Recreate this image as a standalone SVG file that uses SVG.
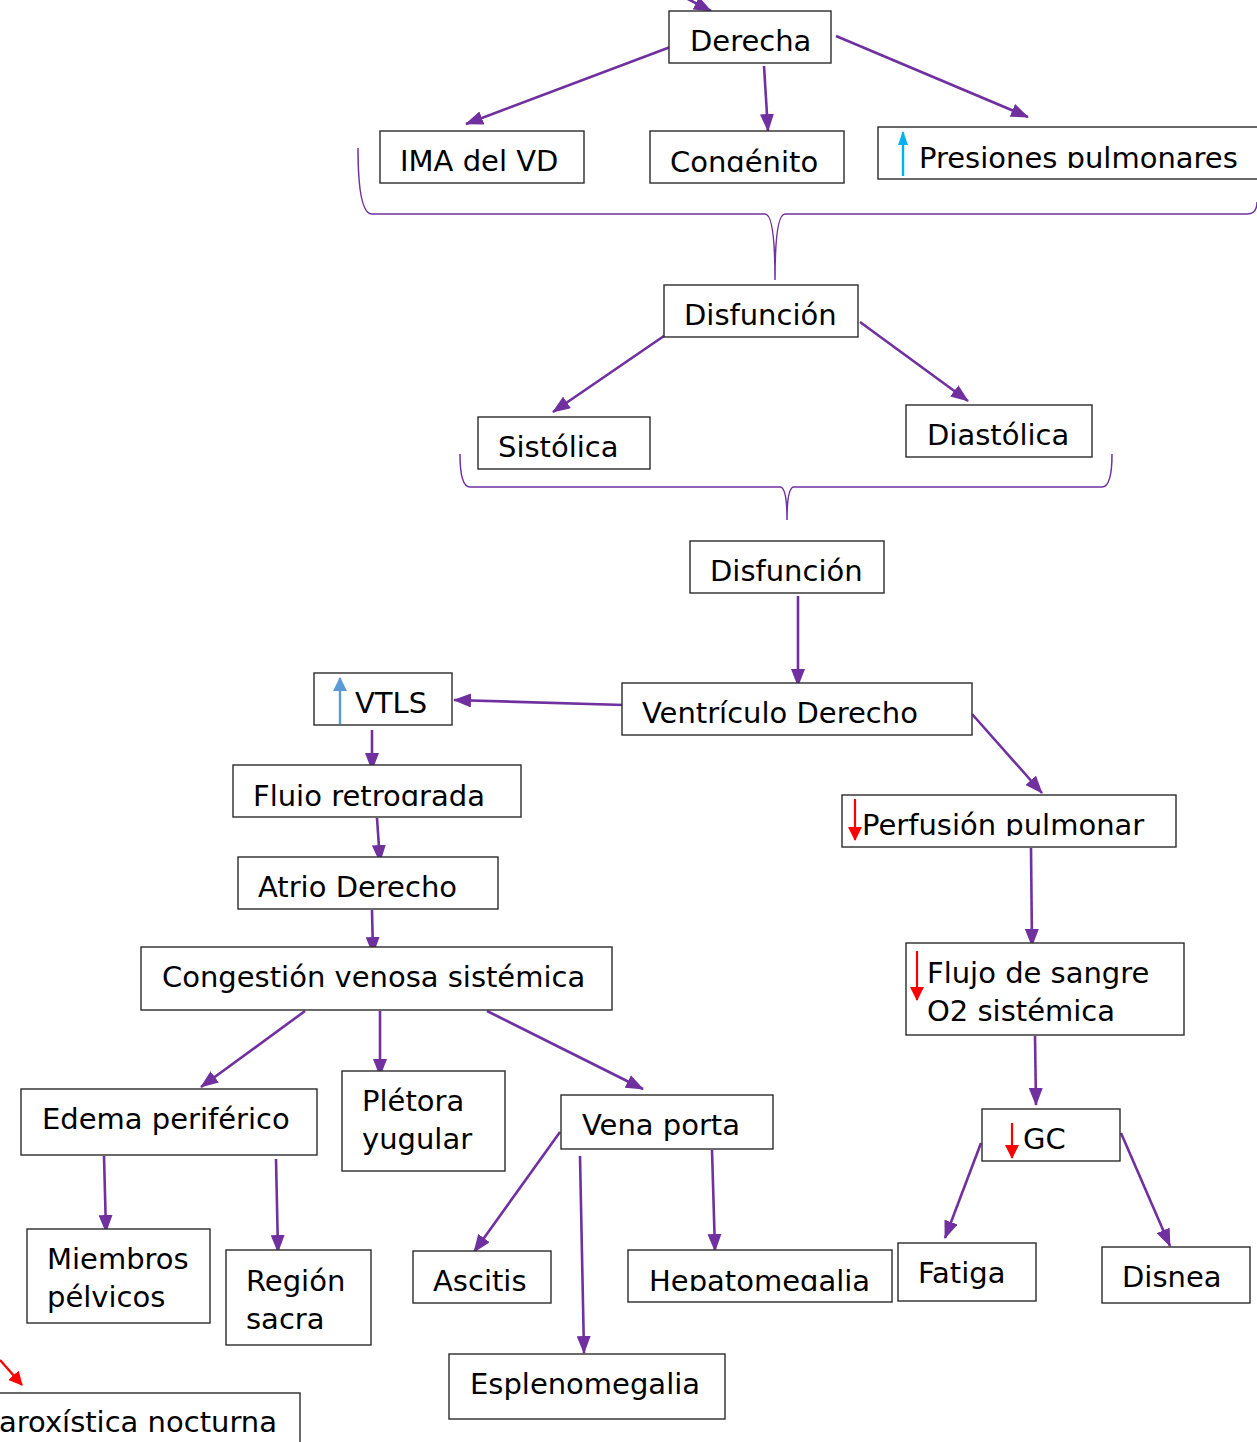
<svg xmlns="http://www.w3.org/2000/svg" width="1257" height="1442" viewBox="0 0 1257 1442">
<style>
.box{fill:#fff;stroke:#2b2b2b;stroke-width:1.4}
.t{font-family:"DejaVu Sans","Verdana",sans-serif;font-size:29px;fill:#000}
.c{stroke:#7030A0;stroke-width:2.6;fill:none;marker-end:url(#ah)}
.brace{stroke:#7030A0;stroke-width:1.5;fill:none}
</style>
<defs>
<marker id="ah" viewBox="0 0 18 14" refX="17" refY="7" markerWidth="18" markerHeight="14" markerUnits="userSpaceOnUse" orient="auto"><path d="M0,0 L18,7 L0,14 z" fill="#7030A0"/></marker>
<marker id="ahR" viewBox="0 0 14 14" refX="13" refY="7" markerWidth="14" markerHeight="14" markerUnits="userSpaceOnUse" orient="auto"><path d="M0,0 L14,7 L0,14 z" fill="#FF0000"/></marker>
<marker id="ahB" viewBox="0 0 14 10" refX="13" refY="5" markerWidth="14" markerHeight="10" markerUnits="userSpaceOnUse" orient="auto"><path d="M0,0 L14,5 L0,10 z" fill="#00B0F0"/></marker>
<marker id="ahB2" viewBox="0 0 14 14" refX="13" refY="7" markerWidth="14" markerHeight="14" markerUnits="userSpaceOnUse" orient="auto"><path d="M0,0 L14,7 L0,14 z" fill="#5B9BD5"/></marker>
<clipPath id="cpCong"><rect x="650" y="131" width="194" height="41"/></clipPath>
<clipPath id="cpPres"><rect x="878" y="127" width="390" height="41"/></clipPath>
<clipPath id="cpFlujo"><rect x="233" y="765" width="288" height="41"/></clipPath>
<clipPath id="cpHepa"><rect x="628" y="1250" width="264" height="41"/></clipPath>
<clipPath id="cpPerf"><rect x="842" y="795" width="334" height="41"/></clipPath>
</defs>

<g id="connectors">
<path class="c" d="M682,-4 L711,11"/>
<path class="c" d="M673,46 L466,124"/>
<path class="c" d="M764,66 L768,131"/>
<path class="c" d="M836,36 L1028,117"/>
<path class="c" d="M680,325 L553,412"/>
<path class="c" d="M860,322 L968,401"/>
<path class="c" d="M798,596 L798,686"/>
<path class="c" d="M624,705 L454,700"/>
<path class="c" d="M972,714 L1042,793"/>
<path class="c" d="M372,730 L372,770"/>
<path class="c" d="M377,818 L380,862"/>
<path class="c" d="M372,910 L373,954"/>
<path class="c" d="M305,1011 L201,1087"/>
<path class="c" d="M380,1011 L380,1076"/>
<path class="c" d="M487,1011 L643,1089"/>
<path class="c" d="M104,1156 L106,1232"/>
<path class="c" d="M276,1159 L278,1252"/>
<path class="c" d="M560,1132 L474,1252"/>
<path class="c" d="M580,1156 L584,1353"/>
<path class="c" d="M712,1150 L715,1251"/>
<path class="c" d="M1031,848 L1032,946"/>
<path class="c" d="M1035,1036 L1036,1105"/>
<path class="c" d="M981,1143 L945,1238"/>
<path class="c" d="M1121,1133 L1170,1246"/>
<path d="M0,1360 L22,1385" stroke="#FF0000" stroke-width="2.4" marker-end="url(#ahR)"/>
<path class="brace" d="M358,148 Q358,214 372,214 L765,214 Q775,214 775,280 Q775,214 785,214 L1247,214 Q1257,214 1257,202"/>
<path class="brace" d="M460,454 Q460,487 470,487 L780,487 Q787,487 787,520 Q787,487 794,487 L1102,487 Q1112,487 1112,454"/>
</g>

<g id="n-derecha"><rect class="box" x="669" y="11" width="162" height="52"/><text class="t" x="690" y="51">Derecha</text></g>
<g id="n-ima"><rect class="box" x="380" y="131" width="204" height="52"/><text class="t" x="400" y="171">IMA del VD</text></g>
<g id="n-congenito"><rect class="box" x="650" y="131" width="194" height="52"/><text class="t" x="670" y="172" clip-path="url(#cpCong)">Congénito</text></g>
<g id="n-presiones"><rect class="box" x="878" y="127" width="390" height="52"/><path d="M903,176 L903,132" stroke="#00B0F0" stroke-width="2.4" marker-end="url(#ahB)"/><text class="t" x="919" y="168" clip-path="url(#cpPres)">Presiones pulmonares</text></g>
<g id="n-disfuncion1"><rect class="box" x="664" y="285" width="194" height="52"/><text class="t" x="684" y="325">Disfunción</text></g>
<g id="n-sistolica"><rect class="box" x="478" y="417" width="172" height="52"/><text class="t" x="498" y="457">Sistólica</text></g>
<g id="n-diastolica"><rect class="box" x="906" y="405" width="186" height="52"/><text class="t" x="927" y="445">Diastólica</text></g>
<g id="n-disfuncion2"><rect class="box" x="690" y="541" width="194" height="52"/><text class="t" x="710" y="581">Disfunción</text></g>
<g id="n-vd"><rect class="box" x="622" y="683" width="350" height="52"/><text class="t" x="642" y="723">Ventrículo Derecho</text></g>
<g id="n-vtls"><rect class="box" x="314" y="673" width="138" height="52"/><path d="M340,724 L340,678" stroke="#5B9BD5" stroke-width="2.4" marker-end="url(#ahB2)"/><text class="t" x="355" y="713">VTLS</text></g>
<g id="n-flujo"><rect class="box" x="233" y="765" width="288" height="52"/><text class="t" x="253" y="806" clip-path="url(#cpFlujo)">Flujo retrograda</text></g>
<g id="n-atrio"><rect class="box" x="238" y="857" width="260" height="52"/><text class="t" x="258" y="897">Atrio Derecho</text></g>
<g id="n-congestion"><rect class="box" x="141" y="947" width="471" height="63"/><text class="t" x="162" y="987">Congestión venosa sistémica</text></g>
<g id="n-edema"><rect class="box" x="21" y="1089" width="296" height="66"/><text class="t" x="42" y="1129">Edema periférico</text></g>
<g id="n-pletora"><rect class="box" x="342" y="1071" width="163" height="100"/><text class="t" x="362" y="1111">Plétora</text><text class="t" x="362" y="1149">yugular</text></g>
<g id="n-vena"><rect class="box" x="561" y="1095" width="212" height="54"/><text class="t" x="582" y="1135">Vena porta</text></g>
<g id="n-miembros"><rect class="box" x="27" y="1229" width="183" height="94"/><text class="t" x="47" y="1269">Miembros</text><text class="t" x="47" y="1307">pélvicos</text></g>
<g id="n-region"><rect class="box" x="226" y="1250" width="145" height="95"/><text class="t" x="246" y="1291">Región</text><text class="t" x="246" y="1329">sacra</text></g>
<g id="n-ascitis"><rect class="box" x="413" y="1251" width="138" height="52"/><text class="t" x="433" y="1291">Ascitis</text></g>
<g id="n-hepato"><rect class="box" x="628" y="1250" width="264" height="52"/><text class="t" x="649" y="1291" clip-path="url(#cpHepa)">Hepatomegalia</text></g>
<g id="n-espleno"><rect class="box" x="449" y="1354" width="276" height="65"/><text class="t" x="470" y="1394">Esplenomegalia</text></g>
<g id="n-perfusion"><rect class="box" x="842" y="795" width="334" height="52"/><path d="M855,799 L855,840" stroke="#FF0000" stroke-width="2.2" marker-end="url(#ahR)"/><text class="t" x="862" y="835" clip-path="url(#cpPerf)">Perfusión pulmonar</text></g>
<g id="n-flujosangre"><rect class="box" x="906" y="943" width="278" height="92"/><path d="M917,951 L917,1000" stroke="#FF0000" stroke-width="2.2" marker-end="url(#ahR)"/><text class="t" x="927" y="983">Flujo de sangre</text><text class="t" x="927" y="1021">O2 sistémica</text></g>
<g id="n-gc"><rect class="box" x="982" y="1109" width="138" height="52"/><path d="M1012,1123 L1012,1158" stroke="#FF0000" stroke-width="2.2" marker-end="url(#ahR)"/><text class="t" x="1023" y="1149">GC</text></g>
<g id="n-fatiga"><rect class="box" x="898" y="1243" width="138" height="58"/><text class="t" x="918" y="1283">Fatiga</text></g>
<g id="n-disnea"><rect class="box" x="1102" y="1247" width="148" height="56"/><text class="t" x="1122" y="1287">Disnea</text></g>
<g id="n-dpn"><rect class="box" x="-20" y="1393" width="320" height="70"/><text class="t" x="277" y="1432" text-anchor="end">aroxística nocturna</text></g>
</svg>
